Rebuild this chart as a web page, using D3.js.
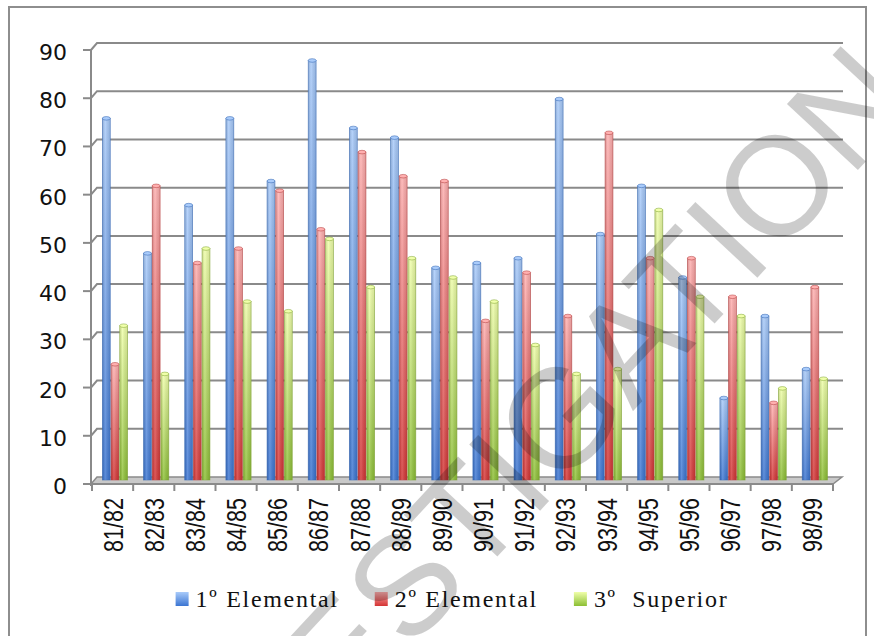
<!DOCTYPE html>
<html>
<head>
<meta charset="utf-8">
<script src="https://cdn.jsdelivr.net/npm/d3@7"></script>
<style>
  html, body { margin: 0; padding: 0; background: #fff; }
  svg { display: block; }
</style>
</head>
<body>
<svg id="chart" width="874" height="636"></svg>
<script>
// School years and enrolment figures per level
const categories = ["81/82","82/83","83/84","84/85","85/86","86/87","87/88","88/89","89/90",
                    "90/91","91/92","92/93","93/94","94/95","95/96","96/97","97/98","98/99"];
const seriesNames = ["1º Elemental", "2º Elemental", "3º  Superior"];
const elemental1 = [75,47,57,75,62,87,73,71,44,45,46,79,51,61,42,17,34,23];
const elemental2 = [24,61,45,48,60,52,68,63,62,33,43,34,72,46,46,38,16,40];
const superior3  = [32,22,48,37,35,50,40,46,42,37,28,22,23,56,38,34,19,21];
const yTicks = [0,10,20,30,40,50,60,70,80,90];
const watermark = "INVESTIGATION";

const series = [elemental1, elemental2, superior3];
const palette = [
  { top: "#a9cbfa", bottom: "#3b75d2", edge: "#3a6cb8" },
  { top: "#ffb0b0", bottom: "#d43434", edge: "#b84444" },
  { top: "#f0ffaa", bottom: "#8cbf34", edge: "#86aa3c" }
];

const svg = d3.select("#chart");
const defs = svg.append("defs");

// 3-D box geometry: the back wall sits up and to the right of the front axis
const depthX = 6, depthY = 7;
const x = d3.scaleBand().domain(categories).range([92, 833]);
const yBack = d3.scaleLinear().domain([0, 90]).range([477, 43]);
const yFront = v => yBack(v) + depthY;
const yBar = v => yBack(v) + 3;
const barBase = yBar(0);

// outer frame
svg.append("rect").attr("x", 9).attr("y", 7).attr("width", 857).attr("height", 660)
  .attr("fill", "none").attr("stroke", "#8e8e8e").attr("stroke-width", 2);

// gridlines on the back wall with the short diagonal to the front axis
const grid = svg.append("g");
yTicks.filter(v => v > 0).forEach(v => {
  grid.append("path")
    .attr("d", `M${91},${yFront(v)}L${91 + depthX},${yBack(v)}L${843},${yBack(v)}`)
    .attr("fill", "none").attr("stroke", "#8a8a8a").attr("stroke-width", 2);
});

// floor
const x0 = 91, x1 = 833;
svg.append("path")
  .attr("d", `M${x0},${yFront(0)}L${x0 + depthX},${yBack(0)}L${x1 + depthX + 3},${yBack(0)}L${x1},${yFront(0)}Z`)
  .attr("fill", "#c9c9c9").attr("stroke", "#8a8a8a").attr("stroke-width", 1.5);

// front vertical axis with ticks
const axisG = svg.append("g");
axisG.append("line").attr("x1", 91).attr("x2", 91)
  .attr("y1", yFront(90)).attr("y2", yFront(0) + 2)
  .attr("stroke", "#8a8a8a").attr("stroke-width", 2);
yTicks.forEach(v => {
  axisG.append("line").attr("x1", 83).attr("x2", 91)
    .attr("y1", yFront(v)).attr("y2", yFront(v))
    .attr("stroke", "#8a8a8a").attr("stroke-width", 2);
  axisG.append("text").attr("x", 67).attr("y", yFront(v) + 10)
    .attr("text-anchor", "end")
    .attr("font-family", "'DejaVu Sans', sans-serif").attr("font-size", 22)
    .attr("fill", "#111").text(v);
});

// category ticks along the front floor edge
axisG.append("line").attr("x1", 91).attr("x2", x1)
  .attr("y1", yFront(0)).attr("y2", yFront(0))
  .attr("stroke", "#8a8a8a").attr("stroke-width", 2);
categories.concat([null]).forEach((c, i) => {
  const xx = c === null ? x1 : x(c);
  axisG.append("line").attr("x1", xx).attr("x2", xx)
    .attr("y1", yFront(0)).attr("y2", yFront(0) + 7)
    .attr("stroke", "#8a8a8a").attr("stroke-width", 2);
});

// category labels, rotated
categories.forEach(c => {
  const cx = x(c) + x.bandwidth() / 2;
  axisG.append("text")
    .attr("transform", `translate(${cx + 10},552) rotate(-90)`)
    .attr("text-anchor", "start")
    .attr("font-family", "'Liberation Sans Narrow', 'Liberation Sans', Arial, sans-serif")
    .attr("font-size", 27)
    .attr("textLength", 54).attr("lengthAdjust", "spacingAndGlyphs")
    .attr("fill", "#111").text(c);
});

// gradients for the cylinders
palette.forEach((p, i) => {
  const g = defs.append("linearGradient").attr("id", "bar" + i)
    .attr("x1", 0).attr("y1", 0).attr("x2", 0).attr("y2", 1);
  g.append("stop").attr("offset", "0%").attr("stop-color", p.top);
  g.append("stop").attr("offset", "100%").attr("stop-color", p.bottom);
});
const shine = defs.append("linearGradient").attr("id", "shine")
  .attr("x1", 0).attr("y1", 0).attr("x2", 1).attr("y2", 0);
shine.append("stop").attr("offset", "0%").attr("stop-color", "#000").attr("stop-opacity", 0.12);
shine.append("stop").attr("offset", "35%").attr("stop-color", "#fff").attr("stop-opacity", 0.18);
shine.append("stop").attr("offset", "100%").attr("stop-color", "#000").attr("stop-opacity", 0.1);

// bars
const inner = d3.scaleBand().domain(d3.range(series.length)).range([10, 36]);
const barsG = svg.append("g");
series.forEach((vals, si) => {
  const p = palette[si];
  const g = barsG.append("g");
  const sel = g.selectAll("g").data(categories.map((c, i) => ({ c, v: vals[i] }))).join("g");
  const bx = d => x(d.c) + inner(si) + 0.4;
  const bw = inner.bandwidth() - 0.8;
  sel.append("rect")
    .attr("x", bx).attr("width", bw)
    .attr("y", d => yBar(d.v)).attr("height", d => barBase - yBar(d.v))
    .attr("fill", `url(#bar${si})`)
    .attr("stroke", p.edge).attr("stroke-opacity", 0.7).attr("stroke-width", 0.8);
  sel.append("rect")
    .attr("x", bx).attr("width", bw)
    .attr("y", d => yBar(d.v)).attr("height", d => barBase - yBar(d.v))
    .attr("fill", "url(#shine)");
  sel.append("ellipse")
    .attr("cx", d => bx(d) + bw / 2).attr("cy", d => yBar(d.v))
    .attr("rx", bw / 2).attr("ry", 1.8)
    .attr("fill", p.top).attr("stroke", p.edge).attr("stroke-opacity", 0.7).attr("stroke-width", 0.8);
});

// legend
const legend = svg.append("g");
let lx = 0;
const items = [];
seriesNames.forEach((name, i) => {
  const it = legend.append("g");
  it.append("rect").attr("x", 0).attr("y", 592).attr("width", 13).attr("height", 14)
    .attr("fill", `url(#bar${i})`);
  const t = it.append("text").attr("x", 20).attr("y", 607)
    .attr("font-family", "'Liberation Serif', serif").attr("font-size", 24)
    .attr("letter-spacing", 1.7).attr("fill", "#111")
    .attr("xml:space", "preserve").style("white-space", "pre").text(name);
  items.push({ it, w: 20 + t.node().getComputedTextLength() });
});
const gap = 36;
const total = d3.sum(items, d => d.w) + gap * (items.length - 1);
lx = 452 - total / 2;
items.forEach(d => { d.it.attr("transform", `translate(${lx},0)`); lx += d.w + gap; });

// diagonal watermark across the plot
svg.append("g")
  .attr("transform", "translate(783,177) rotate(-47)")
  .append("text")
  .attr("x", -932).attr("y", 50)
  .attr("font-family", "'Liberation Sans', Arial, sans-serif")
  .attr("font-size", 141)
  .attr("fill", "#000").attr("fill-opacity", 0.2)
  .text(watermark);
</script>
</body>
</html>
